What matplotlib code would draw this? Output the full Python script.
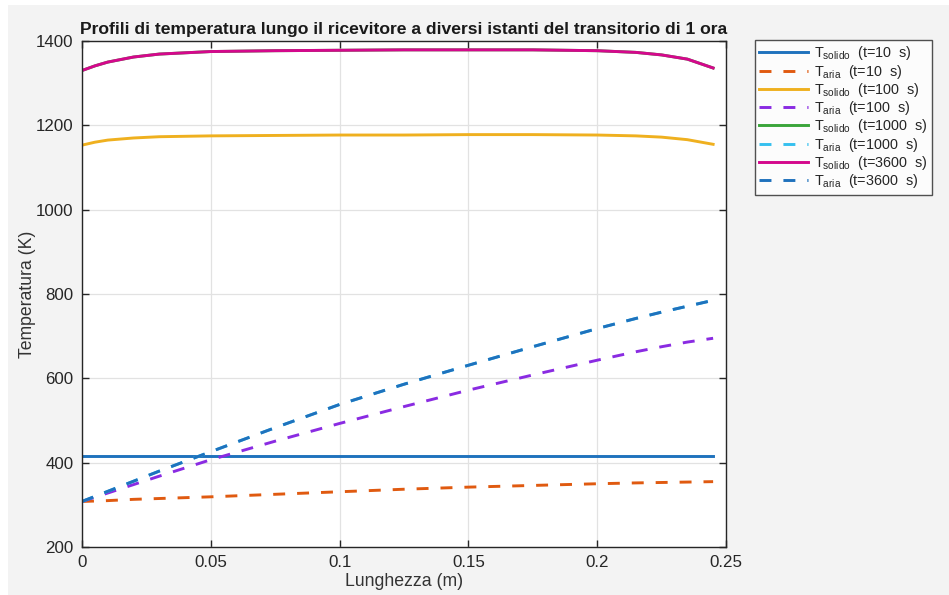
import numpy as np
import matplotlib
matplotlib.use("Agg")
import matplotlib.pyplot as plt
from matplotlib.ticker import FormatStrFormatter
from matplotlib.patches import Rectangle

plt.rcParams['font.family'] = ['Liberation Sans', 'DejaVu Sans']
plt.rcParams['mathtext.fontset'] = 'custom'
plt.rcParams['mathtext.rm'] = 'Liberation Sans'
plt.rcParams['mathtext.it'] = 'Liberation Sans'

# posizioni lungo il ricevitore (m)
x = [0, 0.005, 0.01, 0.02, 0.03, 0.05, 0.075, 0.1, 0.125, 0.15,
     0.175, 0.2, 0.215, 0.225, 0.235, 0.245]

# temperature (K)
Ts_10 = [415] * len(x)
Ta_10 = [308, 309, 310, 313, 315, 319, 325, 331, 337, 342, 346, 350, 352, 353, 354, 355]
Ts_100 = [1153, 1160, 1165, 1170, 1173, 1175, 1176, 1177, 1177, 1178, 1178, 1177, 1175, 1172, 1166, 1155]
Ta_100 = [308, 318, 328, 348, 368, 407, 451, 493, 533, 572, 608, 643, 663, 675, 686, 695]
Ts_1000 = [1330, 1341, 1350, 1362, 1369, 1375, 1377, 1378, 1379, 1379, 1379, 1377, 1373, 1367, 1357, 1336]
Ta_1000 = [308, 320, 332, 356, 380, 426, 483, 538, 586, 631, 675, 718, 742, 757, 771, 785]
Ts_3600 = [1330, 1341, 1350, 1362, 1369, 1375, 1377, 1378, 1379, 1379, 1379, 1377, 1373, 1367, 1357, 1336]
Ta_3600 = [308, 320, 332, 356, 380, 426, 483, 538, 586, 631, 675, 718, 742, 757, 771, 785]

tempi = ['10', '100', '1000', '3600']
solidi = [Ts_10, Ts_100, Ts_1000, Ts_3600]
arie = [Ta_10, Ta_100, Ta_1000, Ta_3600]
col_s = ['#1f72bd', '#efb01f', '#3aa53a', '#d4088c']
col_a = ['#e05a10', '#8a2be2', '#35c0ef', '#1f72bd']

fig = plt.figure(figsize=(9.49, 5.95), dpi=100, facecolor='white')
fig.patches.append(Rectangle((8/949, 0), 1, 1 - 5/595, transform=fig.transFigure,
                             facecolor='#f3f3f3', edgecolor='none', zorder=-10))
ax = fig.add_axes([82/949, 1 - 547/595, (726 - 82)/949, (547 - 41)/595])

for i in range(4):
    ax.plot(x, solidi[i], color=col_s[i], lw=2.1,
            label=r'T$_{\rm solido}$  (t=' + tempi[i] + '  s)')
    ax.plot(x, arie[i], color=col_a[i], lw=2.1, dashes=(4.1, 4.1),
            label=r'T$_{\rm aria}$  (t=' + tempi[i] + '  s)')

ax.set_xlim(0, 0.25)
ax.set_ylim(200, 1400)
ax.set_xticks([0, 0.05, 0.1, 0.15, 0.2, 0.25])
ax.set_yticks([200, 400, 600, 800, 1000, 1200, 1400])
ax.xaxis.set_major_formatter(FormatStrFormatter('%g'))
ax.grid(True, color='#e2e2e2', lw=0.9)
ax.set_axisbelow(True)
ax.tick_params(direction='in', top=True, right=True, labelsize=12.2,
               colors='#262626', length=5, width=1, pad=6)
for s in ax.spines.values():
    s.set_color('#262626')
    s.set_linewidth(1)

ax.set_xlabel('Lunghezza (m)', fontsize=12.7, color='#333333', labelpad=2)
ax.set_ylabel('Temperatura (K)', fontsize=12.7, color='#333333', labelpad=0)
ax.set_title('Profili di temperatura lungo il ricevitore a diversi istanti del transitorio di 1 ora',
             fontsize=12.6, fontweight='bold', color='#1a1a1a', pad=5)

leg = ax.legend(loc='upper left', bbox_to_anchor=(755/949, 1 - 40/595),
                bbox_transform=fig.transFigure, fontsize=10.4, frameon=True,
                fancybox=False, edgecolor='#262626', borderaxespad=0,
                handlelength=3.4, labelspacing=0.02, handletextpad=0.35,
                borderpad=0.3)
leg.get_frame().set_linewidth(1)
for t in leg.get_texts():
    t.set_color('#262626')

fig.savefig('out.png', dpi=100)
